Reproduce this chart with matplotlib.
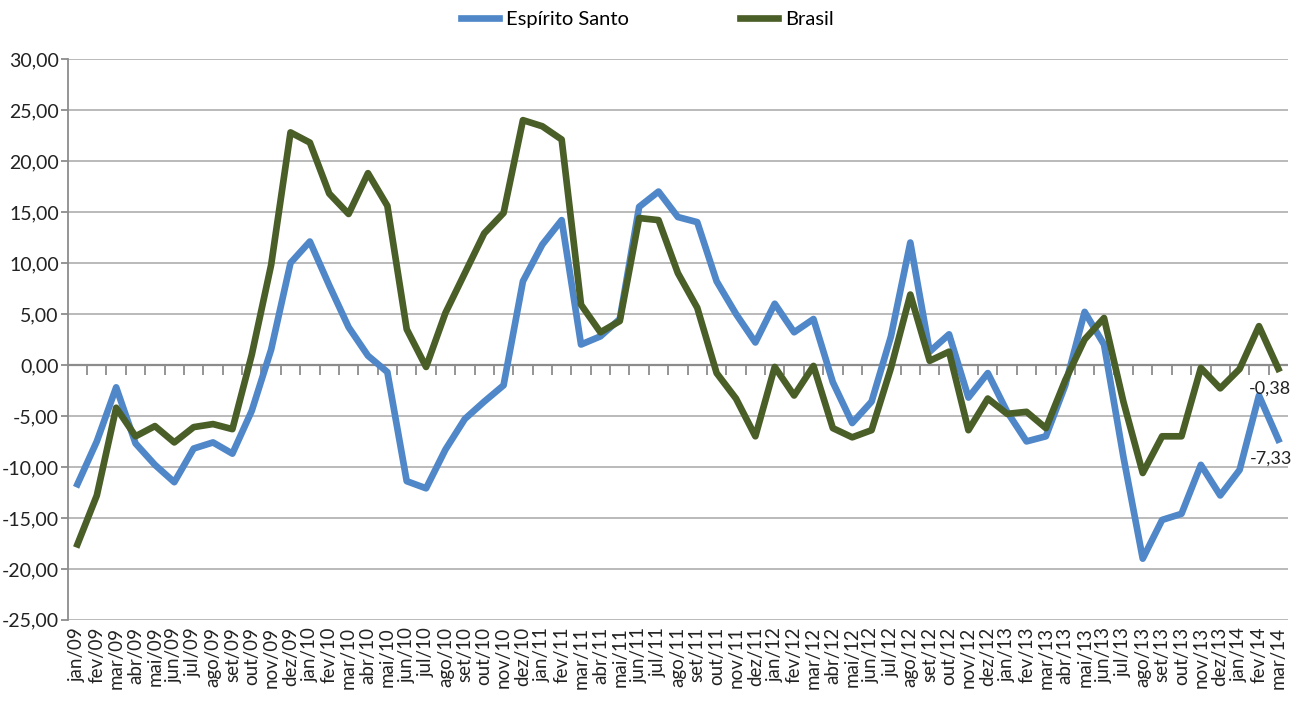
import matplotlib.pyplot as plt
import matplotlib as mpl
from matplotlib.markers import TICKDOWN

mpl.rcParams['font.family'] = ['Lato', 'DejaVu Sans']

MONTHS = ["jan", "fev", "mar", "abr", "mai", "jun",
          "jul", "ago", "set", "out", "nov", "dez"]
YEARS = ["09", "10", "11", "12", "13", "14"]
LABELS = [f"{m}/{y}" for y in YEARS for m in MONTHS][:63]

ES = [-11.7, -7.5, -2.2, -7.7, -9.8, -11.5, -8.2, -7.6, -8.7, -4.5, 1.5, 10.0,
      12.1, 7.8, 3.7, 0.9, -0.7, -11.4, -12.1, -8.3, -5.3, -3.6, -2.0, 8.2,
      11.8, 14.2, 2.0, 2.8, 4.5, 15.5, 17.0, 14.5, 14.0, 8.2, 5.0, 2.2,
      6.0, 3.2, 4.5, -1.7, -5.7, -3.6, 2.8, 12.0, 1.3, 3.0, -3.2, -0.8,
      -4.6, -7.5, -7.0, -2.0, 5.2, 2.0, -9.0, -19.0, -15.2, -14.6, -9.8, -12.8,
      -10.3, -3.0, -7.33]
BR = [-17.6, -12.8, -4.2, -7.0, -6.0, -7.6, -6.1, -5.8, -6.3, 1.0, 9.8, 22.8,
      21.8, 16.8, 14.8, 18.8, 15.6, 3.5, -0.2, 5.1, 9.0, 12.9, 14.9, 24.0,
      23.4, 22.1, 5.9, 3.2, 4.3, 14.4, 14.2, 9.0, 5.6, -0.8, -3.3, -7.0,
      -0.2, -3.0, -0.1, -6.2, -7.1, -6.4, -0.3, 6.9, 0.4, 1.3, -6.4, -3.3,
      -4.8, -4.6, -6.2, -1.5, 2.5, 4.6, -3.6, -10.6, -7.0, -7.0, -0.3, -2.3,
      -0.4, 3.8, -0.38]

BLUE = '#4F87C9'
GREEN = '#4A5E28'


def fmt(v):
    return f"{v:.2f}".replace('.', ',')


def main():
    fig = plt.figure(figsize=(13.03, 7.02), dpi=100)
    ax = fig.add_axes([0.052, 0.117, 0.9365, 0.799])

    x = list(range(len(LABELS)))
    ax.plot(x, ES, color=BLUE, linewidth=4.8, label="Espírito Santo", zorder=3)
    ax.plot(x, BR, color=GREEN, linewidth=4.8, label="Brasil", zorder=4)

    # zero line with category tick marks (Excel style)
    ax.axhline(0, color='#8C8C8C', linewidth=1.6, zorder=2)
    bounds = [i + 0.5 for i in x[:-1]]
    ax.plot(bounds, [0] * len(bounds), ls='none', marker=TICKDOWN,
            markersize=7, markeredgewidth=1.3, color='#8C8C8C', zorder=2)

    # data labels for last values
    ax.annotate(fmt(BR[-1]), xy=(x[-1], BR[-1]), xytext=(-6, -14),
                textcoords='offset points', ha='center', va='center',
                fontsize=13, color='#222222')
    ax.annotate(fmt(ES[-1]), xy=(x[-1], ES[-1]), xytext=(-5, -14),
                textcoords='offset points', ha='center', va='center',
                fontsize=13, color='#222222')

    ax.set_xlim(-0.5, len(LABELS) - 0.5)
    ax.set_ylim(-25, 30)
    ax.set_yticks(range(-25, 31, 5))
    ax.set_yticklabels([fmt(v) for v in range(-25, 31, 5)], fontsize=14,
                       color='#222222')
    ax.set_xticks(x)
    ax.set_xticklabels(LABELS, rotation=90, fontsize=13.5, color='#222222')
    ax.tick_params(axis='x', length=0, pad=5)
    ax.tick_params(axis='y', length=5, width=1.3, color='#8C8C8C', pad=1.5)

    ax.grid(axis='y', color='#B4B4B4', linewidth=1.3)
    ax.set_axisbelow(True)
    for side in ['top', 'right', 'bottom']:
        ax.spines[side].set_visible(False)
    ax.spines['left'].set_color('#8C8C8C')
    ax.spines['left'].set_linewidth(1.3)

    fig.legend(loc='upper center', bbox_to_anchor=(0.497, 1.01), ncol=2,
               frameon=False, fontsize=14.5, handlelength=1.9,
               columnspacing=5.5, handletextpad=0.35)

    fig.savefig("out.png", dpi=100)


if __name__ == "__main__":
    main()
